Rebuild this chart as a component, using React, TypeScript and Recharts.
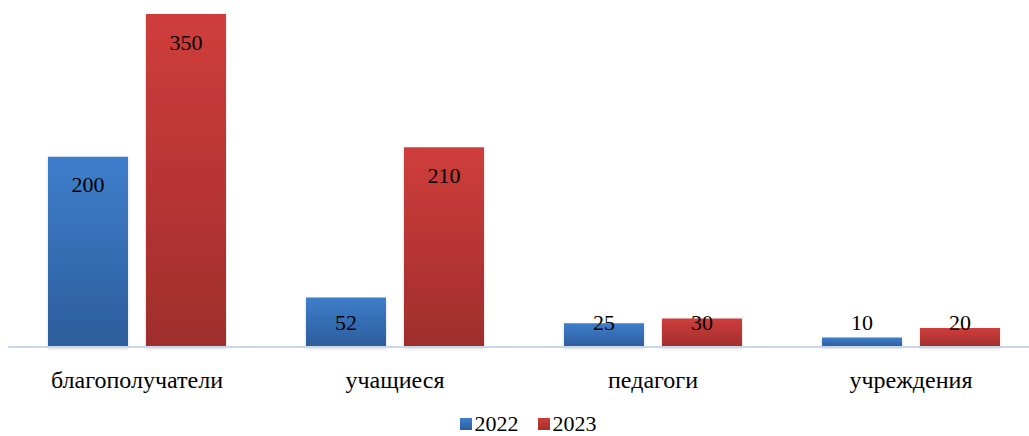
import * as React from "react";
import { BarChart, Bar, XAxis, YAxis, LabelList } from "recharts";

const categories = ["благополучатели", "учащиеся", "педагоги", "учреждения"];
const values2022 = [200, 52, 25, 10];
const values2023 = [350, 210, 30, 20];
const seriesNames = ["2022", "2023"];

const data = categories.map((name, i) => ({
    name,
    v2022: values2022[i],
    v2023: values2023[i],
}));

const FONT = "Times New Roman, Liberation Serif, Tinos, DejaVu Serif, serif";

const InsideLabel = (props: any) => {
    const { x, y, width, value } = props;
    const cy = Math.min(y + 28, 322);
    return (
        <text x={x + width / 2} y={cy} textAnchor="middle" dominantBaseline="central"
            style={{ fontFamily: FONT }} fontSize={22} fill="#000">
            {value}
        </text>
    );
};

const CatTick = (props: any) => {
    const { x, y, payload } = props;
    return (
        <text x={x} y={y + 31} textAnchor="middle" dominantBaseline="central"
            style={{ fontFamily: FONT }} fontSize={24} fill="#000">
            {payload.value}
        </text>
    );
};

export default function App() {
    return (
        <div style={{ position: "absolute", left: 0, top: 0, width: 1029, height: 436, overflow: "hidden", background: "#fff" }}>
            <div style={{ position: "absolute", left: 8, top: 0 }}>
                <BarChart width={1032} height={436} data={data}
                    margin={{ top: 14, right: 0, bottom: 47, left: 0 }}
                    barGap={18} barSize={80}>
                    <defs>
                        <linearGradient id="gBlue" x1="0" y1="0" x2="0" y2="1">
                            <stop offset="0%" stopColor="#3e7ecb" />
                            <stop offset="100%" stopColor="#2c5d9c" />
                        </linearGradient>
                        <linearGradient id="gRed" x1="0" y1="0" x2="0" y2="1">
                            <stop offset="0%" stopColor="#cf3d3b" />
                            <stop offset="100%" stopColor="#9f2e2c" />
                        </linearGradient>
                        <filter id="shadow" x="-10%" y="-10%" width="120%" height="130%">
                            <feDropShadow dx="0" dy="1.5" stdDeviation="1.5" floodColor="#808080" floodOpacity="0.35" />
                        </filter>
                    </defs>
                    <XAxis dataKey="name" tick={<CatTick />} tickLine={false} tickSize={0}
                        height={42} axisLine={{ stroke: "#c9d7ea", strokeWidth: 2 }} interval={0} />
                    <YAxis hide domain={[0, 350]} />
                    <Bar dataKey="v2022" name={seriesNames[0]} fill="url(#gBlue)" filter="url(#shadow)" isAnimationActive={false}>
                        <LabelList dataKey="v2022" content={<InsideLabel />} />
                    </Bar>
                    <Bar dataKey="v2023" name={seriesNames[1]} fill="url(#gRed)" filter="url(#shadow)" isAnimationActive={false}>
                        <LabelList dataKey="v2023" content={<InsideLabel />} />
                    </Bar>
                </BarChart>
            </div>
            <div style={{ position: "absolute", top: 413, left: 0, width: 1056, display: "flex", justifyContent: "center", fontFamily: FONT, fontSize: 22, lineHeight: "22px", color: "#000" }}>
                {seriesNames.map((n, i) => (
                    <span key={n} style={{ display: "flex", alignItems: "center", marginRight: i === 0 ? 19 : 0 }}>
                        <span style={{ display: "inline-block", width: 12, height: 12, marginRight: 3, background: i === 0 ? "linear-gradient(#3e7ecb,#2c5d9c)" : "linear-gradient(#cf3d3b,#9f2e2c)" }} />
                        {n}
                    </span>
                ))}
            </div>
        </div>
    );
}
